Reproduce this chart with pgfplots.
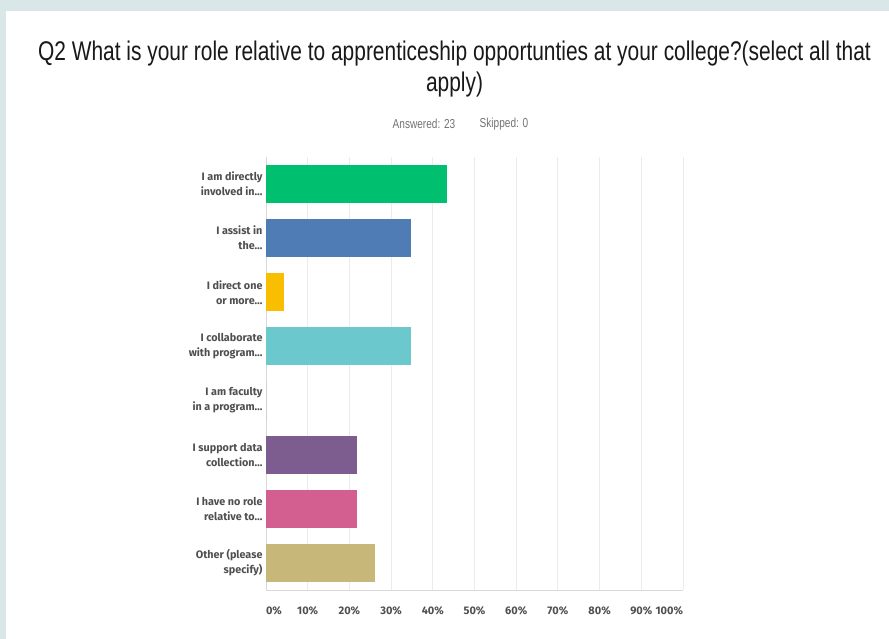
\documentclass[border=0pt]{standalone}
\usepackage{fontspec}
\usepackage{pgfplots}
\pgfplotsset{compat=1.18}
\setmainfont{Liberation Sans}
\newfontfamily\titlefont[FakeStretch=0.775]{Liberation Sans}
\newfontfamily\labfont{Fira Sans}
\definecolor{bgc}{HTML}{DAE7E8}
\definecolor{cgreen}{HTML}{00BF6F}
\definecolor{cblue}{HTML}{507CB6}
\definecolor{cyellow}{HTML}{F9BE00}
\definecolor{cteal}{HTML}{6BC8CD}
\definecolor{cgray}{HTML}{9B9B9B}
\definecolor{cpurple}{HTML}{7D5C90}
\definecolor{cpink}{HTML}{D25F90}
\definecolor{ctan}{HTML}{C7B879}
\definecolor{gridc}{HTML}{EBEBEB}
\definecolor{axc}{HTML}{D9D9D9}
\definecolor{labc}{HTML}{4F4F4F}
\begin{document}
\begin{tikzpicture}[x=1pt,y=1pt]
\useasboundingbox (0,0) rectangle (889,639);
\fill[bgc] (0,0) rectangle (889,639);
\fill[white] (6,0) rectangle (889,628);
\node[font=\titlefont\fontsize{27}{30}\selectfont, text=black!90] at (454.5,585) {Q2 What is your role relative to apprenticeship opportunties at your college?(select all that};
\node[font=\titlefont\fontsize{27}{30}\selectfont, text=black!90] at (454.5,554) {apply)};
\node[font=\titlefont\fontsize{13}{14}\selectfont, text=black!55] at (424,515) {Answered: 23};
\node[font=\titlefont\fontsize{13}{14}\selectfont, text=black!55] at (504,515) {Skipped: 0};
\begin{axis}[
  at={(266pt,49pt)}, anchor=south west,
  scale only axis, width=417pt, height=433pt,
  xmin=0, xmax=100, ymin=0.5, ymax=8.5,
  y dir=reverse,
  xbar, bar width=0.7,
  axis x line*=bottom, axis y line*=left,
  x axis line style={-, draw=axc, line width=1pt},
  y axis line style={-, draw=axc, line width=1pt},
  xmajorgrids, major grid style={draw=gridc, line width=1pt},
  major tick length=0pt,
  xtick={0,10,...,100},
  xticklabels={\makebox[0pt][l]{0\%},10\%,20\%,30\%,40\%,50\%,60\%,70\%,80\%,90\%,\makebox[0pt][r]{100\%}},
  xticklabel style={font=\labfont\bfseries\fontsize{11}{12}\selectfont, text=labc, yshift=-13pt},
  ytick={1,...,8},
  yticklabels={{I am directly\\involved in…},{I assist in\\the…},{I direct one\\or more…},{I collaborate\\with program…},{I am faculty\\in a program…},{I support data\\collection…},{I have no role\\relative to…},{Other (please\\specify)}},
  yticklabel style={align=right, font=\labfont\bfseries\fontsize{10.8}{15}\selectfont, text=labc},
]
\addplot[fill=cgreen, draw=none, bar shift=0pt] coordinates {(43.48,1)};
\addplot[fill=cblue, draw=none, bar shift=0pt] coordinates {(34.78,2)};
\addplot[fill=cyellow, draw=none, bar shift=0pt] coordinates {(4.35,3)};
\addplot[fill=cteal, draw=none, bar shift=0pt] coordinates {(34.78,4)};
\addplot[fill=cgray, draw=none, bar shift=0pt] coordinates {(0,5)};
\addplot[fill=cpurple, draw=none, bar shift=0pt] coordinates {(21.74,6)};
\addplot[fill=cpink, draw=none, bar shift=0pt] coordinates {(21.74,7)};
\addplot[fill=ctan, draw=none, bar shift=0pt] coordinates {(26.09,8)};
\end{axis}
\end{tikzpicture}
\end{document}
